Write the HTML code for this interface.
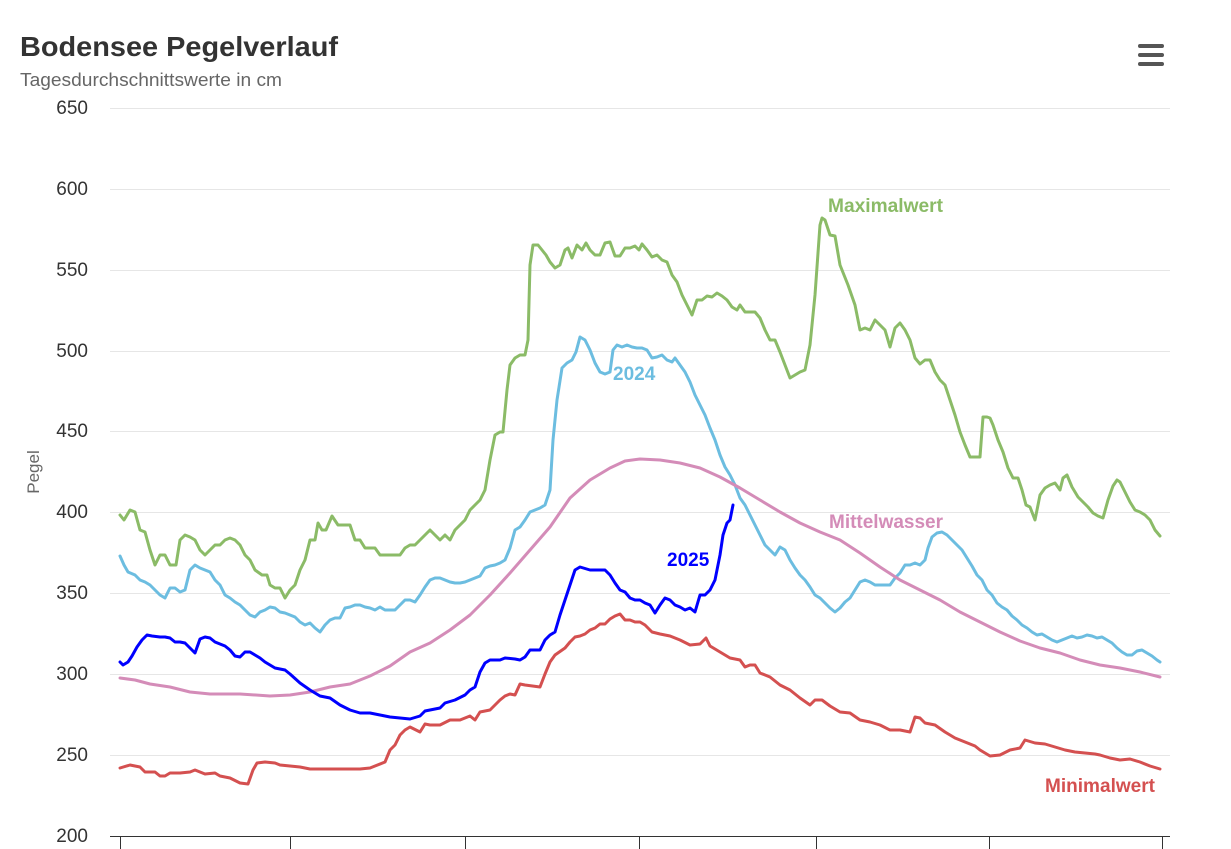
<!DOCTYPE html>
<html><head><meta charset="utf-8"><style>
html,body{margin:0;padding:0;background:#fff;}
svg{display:block;font-family:"Liberation Sans",Arial,sans-serif;}
</style></head><body>
<svg width="1231" height="849" viewBox="0 0 1231 849" xmlns="http://www.w3.org/2000/svg">
<rect width="1231" height="849" fill="#fff"/>
<text x="20" y="56" font-size="28" font-weight="bold" fill="#333" textLength="318" lengthAdjust="spacingAndGlyphs">Bodensee Pegelverlauf</text>
<text x="20" y="86" font-size="18" fill="#666" textLength="262" lengthAdjust="spacingAndGlyphs">Tagesdurchschnittswerte in cm</text>
<g fill="#555"><rect x="1138" y="44" width="26" height="4" rx="2"/><rect x="1138" y="53" width="26" height="4" rx="2"/><rect x="1138" y="62" width="26" height="4" rx="2"/></g>
<g stroke="#e6e6e6" stroke-width="1">
<line x1="110" x2="1170" y1="108.5" y2="108.5"/><line x1="110" x2="1170" y1="189.5" y2="189.5"/><line x1="110" x2="1170" y1="270.5" y2="270.5"/><line x1="110" x2="1170" y1="351.5" y2="351.5"/><line x1="110" x2="1170" y1="431.5" y2="431.5"/><line x1="110" x2="1170" y1="512.5" y2="512.5"/><line x1="110" x2="1170" y1="593.5" y2="593.5"/><line x1="110" x2="1170" y1="674.5" y2="674.5"/><line x1="110" x2="1170" y1="755.5" y2="755.5"/>
</g>
<line x1="110" x2="1170" y1="836.5" y2="836.5" stroke="#333" stroke-width="1"/>
<g stroke="#333"><line x1="120.5" x2="120.5" y1="836" y2="849"/><line x1="290.5" x2="290.5" y1="836" y2="849"/><line x1="465.5" x2="465.5" y1="836" y2="849"/><line x1="639.5" x2="639.5" y1="836" y2="849"/><line x1="816.5" x2="816.5" y1="836" y2="849"/><line x1="989.5" x2="989.5" y1="836" y2="849"/><line x1="1162.5" x2="1162.5" y1="836" y2="849"/></g>
<g font-size="19" fill="#333" text-anchor="end">
<text x="88" y="114">650</text><text x="88" y="195">600</text><text x="88" y="276">550</text><text x="88" y="357">500</text><text x="88" y="437">450</text><text x="88" y="518">400</text><text x="88" y="599">350</text><text x="88" y="680">300</text><text x="88" y="761">250</text><text x="88" y="842">200</text>
</g>
<text transform="translate(39,472) rotate(-90)" font-size="17" fill="#666" text-anchor="middle">Pegel</text>
<g fill="none" stroke-width="3" stroke-linejoin="round" stroke-linecap="round">
<polyline stroke="#8bbb67" points="120,515 124,520 130,510 135,512 140,530 145,532 150,550 155,565 160,555 165,555 170,565 176,565 180,540 185,535 190,537 195,540 200,550 205,555 210,550 215,545 220,545 225,540 230,538 235,540 240,545 245,555 250,560 255,570 262,575 267,575 270,585 275,588 280,588 285,598 290,590 295,585 300,570 305,560 310,540 315,540 318,523 322,530 326,530 332,516 338,525 345,525 350,525 355,540 360,540 365,548 370,548 375,548 380,555 385,555 390,555 395,555 400,555 405,548 410,545 415,545 420,540 425,535 430,530 435,535 440,540 445,535 450,540 455,530 460,525 465,520 470,510 475,505 480,500 485,490 490,460 495,435 500,432 503,432 507,390 510,365 515,358 520,355 525,355 528,340 530,265 533,245 538,245 542,250 546,255 550,262 555,268 560,265 565,250 568,248 572,258 577,245 582,250 586,243 590,250 595,255 600,255 605,243 610,242 615,256 620,256 625,248 630,248 635,246 639,250 642,244 647,250 652,257 657,255 662,260 667,262 672,275 677,282 682,295 687,305 692,315 697,300 702,300 707,296 712,297 717,293 722,296 727,300 732,307 737,310 740,305 745,312 750,312 755,312 760,318 765,330 770,340 775,340 780,352 785,365 790,378 795,375 800,372 805,370 810,345 815,295 820,225 822,218 825,220 830,235 835,236 840,265 848,285 855,305 860,330 865,328 870,330 875,320 880,325 885,330 890,347 895,328 900,323 905,330 910,340 915,358 920,364 925,360 930,360 935,372 940,380 945,385 950,400 955,415 960,432 965,445 970,457 975,457 980,457 983,417 987,417 990,418 993,425 998,440 1003,452 1008,468 1013,478 1018,478 1022,490 1026,505 1030,507 1035,520 1040,495 1045,488 1050,485 1055,483 1060,490 1063,478 1067,475 1072,487 1078,497 1083,502 1088,507 1093,513 1098,516 1103,518 1108,500 1113,486 1117,480 1120,482 1125,492 1130,502 1135,510 1140,512 1145,515 1150,520 1155,530 1160,536"/>
<polyline stroke="#6cbde0" points="120,556 124,565 128,572 135,575 140,580 145,582 150,585 155,590 160,595 165,598 170,588 175,588 180,592 185,590 190,570 195,565 200,568 205,570 210,572 215,580 220,585 225,595 230,598 235,602 240,605 245,610 250,615 255,617 260,612 265,610 270,607 275,608 280,612 285,613 290,615 295,617 300,622 305,625 310,623 315,628 320,632 325,625 330,620 335,618 340,618 345,608 350,607 355,605 360,605 365,607 370,608 375,610 380,607 385,610 390,610 395,610 400,605 405,600 410,600 415,602 420,595 425,587 430,580 435,578 440,578 445,580 450,582 455,583 460,583 465,582 470,580 475,578 480,576 485,568 490,566 495,565 500,563 505,560 510,548 515,530 520,527 525,520 530,512 535,510 540,508 545,505 550,490 553,440 557,400 562,368 567,363 572,360 576,352 580,337 585,340 590,350 595,363 600,372 605,374 610,372 613,350 617,345 622,347 627,345 632,347 637,348 642,348 647,350 652,358 657,357 662,355 667,360 672,362 675,358 680,365 685,372 690,382 695,395 700,405 705,415 710,428 715,440 720,455 725,467 730,475 735,485 740,498 745,505 750,515 755,525 760,535 765,545 770,550 775,555 780,547 785,550 790,560 795,568 800,575 805,580 810,587 815,595 820,598 825,603 830,608 835,612 840,608 845,602 850,598 855,590 860,582 865,580 870,582 875,585 880,585 885,585 890,585 895,578 900,573 905,565 910,565 915,563 920,565 925,560 928,548 932,537 937,533 942,532 947,535 952,540 957,545 962,550 967,558 972,566 977,575 982,580 987,590 992,595 997,603 1002,607 1007,610 1012,616 1017,620 1022,625 1027,628 1032,632 1037,635 1042,634 1047,637 1052,640 1057,642 1062,640 1067,638 1072,636 1077,638 1082,637 1087,635 1092,636 1097,638 1102,637 1107,640 1112,643 1117,648 1122,652 1127,655 1132,655 1137,651 1142,650 1147,653 1152,656 1157,660 1160,662"/>
<polyline stroke="#d48cb8" points="120,678 135,680 150,684 170,687 190,692 210,694 240,694 270,696 290,695 310,692 330,687 350,684 370,676 390,666 410,652 430,643 450,630 470,615 490,595 510,573 530,550 550,527 570,498 590,480 610,468 625,461 640,459 660,460 680,463 700,468 720,477 740,488 760,500 780,512 800,523 820,532 840,540 860,553 880,567 900,580 920,590 940,600 960,612 980,622 1000,632 1020,641 1040,648 1060,653 1080,660 1100,665 1120,668 1140,672 1160,677"/>
<polyline stroke="#d45050" points="120,768 130,765 140,767 145,772 155,772 160,776 165,776 170,773 180,773 190,772 195,770 205,774 215,773 220,776 230,778 240,783 248,784 253,770 257,763 265,762 275,763 280,765 290,766 300,767 310,769 320,769 340,769 360,769 370,768 375,766 385,762 390,750 395,745 400,735 405,730 410,727 420,732 425,724 430,725 440,725 450,720 460,720 470,716 475,720 480,712 490,710 500,700 505,696 510,694 515,695 520,684 525,685 540,687 545,674 550,662 555,655 565,648 570,642 575,637 580,636 585,634 590,630 595,628 600,624 605,624 610,619 615,616 620,614 625,620 630,620 635,622 640,622 645,625 652,632 660,634 670,636 680,640 690,645 700,644 706,638 710,646 720,652 730,658 740,660 745,667 750,665 755,665 760,673 770,677 780,685 790,690 800,698 810,705 815,700 822,700 830,706 840,712 850,713 860,720 870,722 880,725 890,730 900,730 910,732 915,717 920,718 925,723 935,725 945,732 955,738 965,742 975,746 980,750 990,756 1000,755 1010,750 1020,748 1025,740 1035,743 1045,744 1055,747 1065,750 1075,752 1085,753 1095,754 1100,755 1110,758 1120,760 1130,759 1140,762 1150,766 1160,769"/>
<polyline stroke="#0000ff" points="120,662 123,665 128,662 132,656 137,647 142,640 147,635 152,636 160,637 165,637 170,638 175,642 180,642 185,643 190,648 195,653 200,639 205,637 210,638 215,642 225,646 230,650 235,656 240,657 245,652 250,652 255,655 260,658 265,662 270,665 275,668 285,670 290,674 300,683 310,690 320,696 330,698 340,705 350,710 360,713 370,713 380,715 390,717 400,718 410,719 420,716 425,711 430,710 440,708 445,703 455,700 465,695 470,690 475,687 480,672 485,663 490,660 500,660 505,658 515,659 520,660 525,657 530,650 540,650 545,640 550,635 555,632 560,615 565,600 570,585 575,570 580,567 590,570 605,570 610,575 615,583 620,590 625,592 630,598 635,600 640,600 645,603 650,605 655,613 660,605 665,598 670,600 675,605 680,607 685,610 690,608 695,612 700,595 705,595 710,590 715,580 720,555 723,535 727,523 730,520 733,505"/>
</g>
<g font-size="19" font-weight="bold">
<text x="828" y="212" fill="#8bbb67" textLength="115" lengthAdjust="spacingAndGlyphs">Maximalwert</text>
<text x="613" y="380" fill="#6cbde0">2024</text>
<text x="829" y="528" fill="#d48cb8" textLength="114" lengthAdjust="spacingAndGlyphs">Mittelwasser</text>
<text x="667" y="566" fill="#0000ff">2025</text>
<text x="1045" y="792" fill="#d45050" textLength="110" lengthAdjust="spacingAndGlyphs">Minimalwert</text>
</g>
</svg>
</body></html>
